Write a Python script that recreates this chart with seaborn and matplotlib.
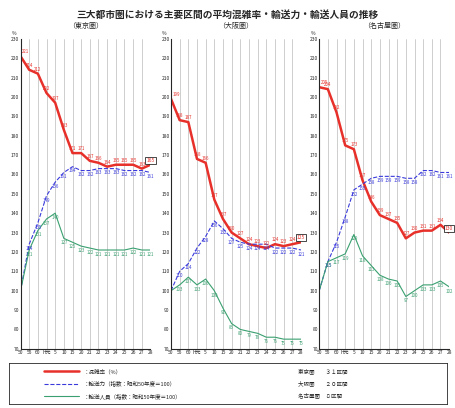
import matplotlib
matplotlib.use("Agg")
import matplotlib.pyplot as plt
import seaborn as sns
import pandas as pd

sns.set_style("white")
plt.rcParams['font.family'] = ['Noto Sans CJK JP', 'DejaVu Sans']

years = ["50", "55", "60", "H元", "5", "10", "15", "20", "21", "22", "23", "24", "25", "26", "27", "28"]
panels = ["（東京圏）", "（大阪圏）", "（名古屋圏）"]
tokyo_cong = [221, 214, 212, 202, 197, 183, 171, 171, 167, 166, 164, 165, 165, 165, 163, 165]
tokyo_cap = [100, 124, 135, 149, 156, 161, 164, 162, 162, 163, 163, 163, 162, 162, 162, 161]
tokyo_pax = [100, 121, 131, 137, 140, 127, 125, 123, 122, 121, 121, 121, 121, 122, 121, 121]
osaka_cong = [199, 188, 187, 168, 166, 147, 137, 130, 127, 124, 123, 122, 124, 123, 124, 125]
osaka_cap = [100, 110, 114, 122, 128, 136, 132, 127, 125, 124, 124, 124, 122, 122, 122, 121]
osaka_pax = [100, 103, 107, 103, 106, 100, 91, 83, 80, 79, 78, 76, 76, 75, 75, 75]
nagoya_cong = [205, 204, 192, 175, 173, 157, 146, 139, 137, 135, 127, 130, 131, 131, 134, 130]
nagoya_cap = [100, 115, 125, 138, 152, 155, 158, 159, 159, 159, 158, 158, 162, 162, 161, 161]
nagoya_pax = [100, 115, 117, 119, 129, 118, 113, 108, 106, 105, 97, 100, 103, 103, 105, 102]
legend_labels = ["：混雑率（%）", "：輸送力（指数：昭和50年度＝100）", "：輸送人員（指数：昭和50年度＝100）"]
section_labels = ["東京圏　　３１区間", "大阪圏　　２０区間", "名古屋圏　８区間"]

data = [(tokyo_cong, tokyo_cap, tokyo_pax), (osaka_cong, osaka_cap, osaka_pax), (nagoya_cong, nagoya_cap, nagoya_pax)]
colors = ["#e8302a", "#3a3adc", "#3aa070"]
styles = ["-", "--", "-"]
widths = [1.8, 0.8, 0.8]

fig = plt.figure(figsize=(4.56, 4.08), dpi=100)
fig.text(0.5, 0.975, "三大都市圏における主要区間の平均混雑率・輸送力・輸送人員の推移",
         ha="center", va="top", fontsize=7, weight="bold")
lefts = [0.045, 0.375, 0.70]
for i, (name, series) in enumerate(zip(panels, data)):
    ax = fig.add_axes([lefts[i], 0.145, 0.285, 0.76])
    for j, vals in enumerate(series):
        df = pd.DataFrame({"x": range(len(years)), "y": vals})
        sns.lineplot(data=df, x="x", y="y", ax=ax, color=colors[j], linestyle=styles[j], linewidth=widths[j])
        for k, v in enumerate(vals):
            if k == 0 and j > 0:
                continue
            if k == len(vals) - 1 and j == 0:
                continue
            ax.text(k + (0.15 if k == 0 else 0), v + (1.5 if j == 0 else -3), str(v), fontsize=3.2,
                    color=colors[j], ha="left" if k == 0 else "center")
    ax.text(len(years) - 1, series[0][-1] + 1.5, str(series[0][-1]), fontsize=3.5, color="#e8302a", ha="center",
            bbox=dict(boxstyle="square,pad=0.2", fc="white", ec="black", lw=0.5))
    ax.set_xlim(0, len(years) - 1)
    ax.set_ylim(70, 230)
    ax.set_yticks(range(70, 231, 10))
    ax.set_xticks(range(len(years)))
    ax.set_xticklabels(years, fontsize=3.5)
    ax.tick_params(axis="y", labelsize=3.5, length=0, pad=1)
    ax.tick_params(axis="x", length=0, pad=1)
    ax.grid(axis="x", color="#bbbbbb", lw=0.5)
    ax.set_xlabel("")
    ax.set_ylabel("")
    ax.set_title(name, fontsize=5, pad=8)
    ax.text(-0.5, 232, "%", fontsize=3.5, ha="right")
    for s in ["top", "right"]:
        ax.spines[s].set_visible(False)
    ax.spines["left"].set_linewidth(0.8)
    ax.spines["bottom"].set_linewidth(0.8)

lax = fig.add_axes([0.02, 0.01, 0.96, 0.1])
lax.set_xlim(0, 1); lax.set_ylim(0, 1)
lax.set_xticks([]); lax.set_yticks([])
for s in lax.spines.values():
    s.set_linewidth(0.6)
for j in range(3):
    y = 0.8 - j * 0.3
    lax.plot([0.08, 0.16], [y, y], color=colors[j], linestyle=styles[j], linewidth=widths[j])
    lax.text(0.17, y, legend_labels[j], fontsize=4, va="center")
    lax.text(0.66, y, section_labels[j], fontsize=4, va="center")

fig.savefig("out.png", dpi=100)
